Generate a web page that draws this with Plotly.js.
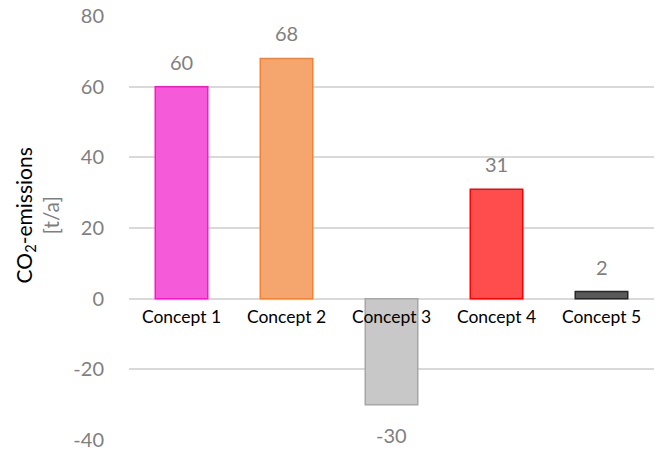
<!DOCTYPE html>
<html>
<head>
<meta charset="utf-8">
<script src="https://cdn.plot.ly/plotly-3.0.1.min.js"></script>
<style>
  html, body { margin: 0; padding: 0; background: #fff; }
  #chart { width: 661px; height: 454px; }
</style>
</head>
<body>
<div id="chart"></div>
<script>
// Annual CO2 emissions per concept
const categories = ["Concept 1", "Concept 2", "Concept 3", "Concept 4", "Concept 5"];
const emissions = [60, 68, -30, 31, 2];
const fillColors = ["#F55AD9", "#F5A66E", "#C8C8C8", "#FF4D4D", "#595959"];
const lineColors = ["#FF14CC", "#F58232", "#A6A6A6", "#FF0000", "#262626"];
const yTicks = [-40, -20, 0, 20, 40, 60, 80];

const FONT = "Lato, 'Open Sans', sans-serif";
const GRAY = "#7F7F7F";

const trace = {
  type: "bar",
  x: categories,
  y: emissions,
  marker: {
    color: fillColors,
    line: { color: lineColors, width: 1.5 }
  },
  hoverinfo: "x+y"
};

// value labels sit a fixed distance beyond the end of each bar
const valueLabels = categories.map((c, i) => ({
  x: c,
  y: emissions[i],
  xref: "x",
  yref: "y",
  text: String(emissions[i]),
  showarrow: false,
  yanchor: "middle",
  yshift: emissions[i] >= 0 ? 25 : -30,
  font: { family: FONT, size: 20, color: GRAY }
}));

const axisTitle = {
  xref: "paper",
  yref: "paper",
  x: -0.175,
  y: 0.53,
  xanchor: "center",
  yanchor: "middle",
  textangle: -90,
  showarrow: false,
  align: "center",
  text: "CO<sub>2</sub>-emissions<br><span style='color:" + GRAY + "'>[t/a]</span>",
  font: { family: FONT, size: 21, color: "#000" }
};

const layout = {
  width: 661,
  height: 454,
  margin: { l: 129, r: 7, t: 16, b: 14 },
  paper_bgcolor: "#fff",
  plot_bgcolor: "#fff",
  showlegend: false,
  bargap: 0.5,
  font: { family: FONT },
  xaxis: {
    type: "category",
    anchor: "free",
    position: 1 / 3,
    showgrid: false,
    showline: false,
    zeroline: false,
    ticks: "",
    ticklabelstandoff: 6,
    tickfont: { family: FONT, size: 17.5, color: "#000" },
    fixedrange: true
  },
  yaxis: {
    range: [-40, 80],
    tickvals: yTicks,
    ticktext: yTicks.map(String),
    showgrid: true,
    gridcolor: "#D9D9D9",
    gridwidth: 2,
    zeroline: true,
    zerolinecolor: "#D9D9D9",
    zerolinewidth: 2,
    showline: false,
    ticks: "outside",
    ticklen: 20,
    tickcolor: "rgba(0,0,0,0)",
    tickfont: { family: FONT, size: 20, color: GRAY },
    fixedrange: true
  },
  annotations: valueLabels.concat([axisTitle])
};

Plotly.newPlot("chart", [trace], layout, { displayModeBar: false, staticPlot: true });
</script>
</body>
</html>
